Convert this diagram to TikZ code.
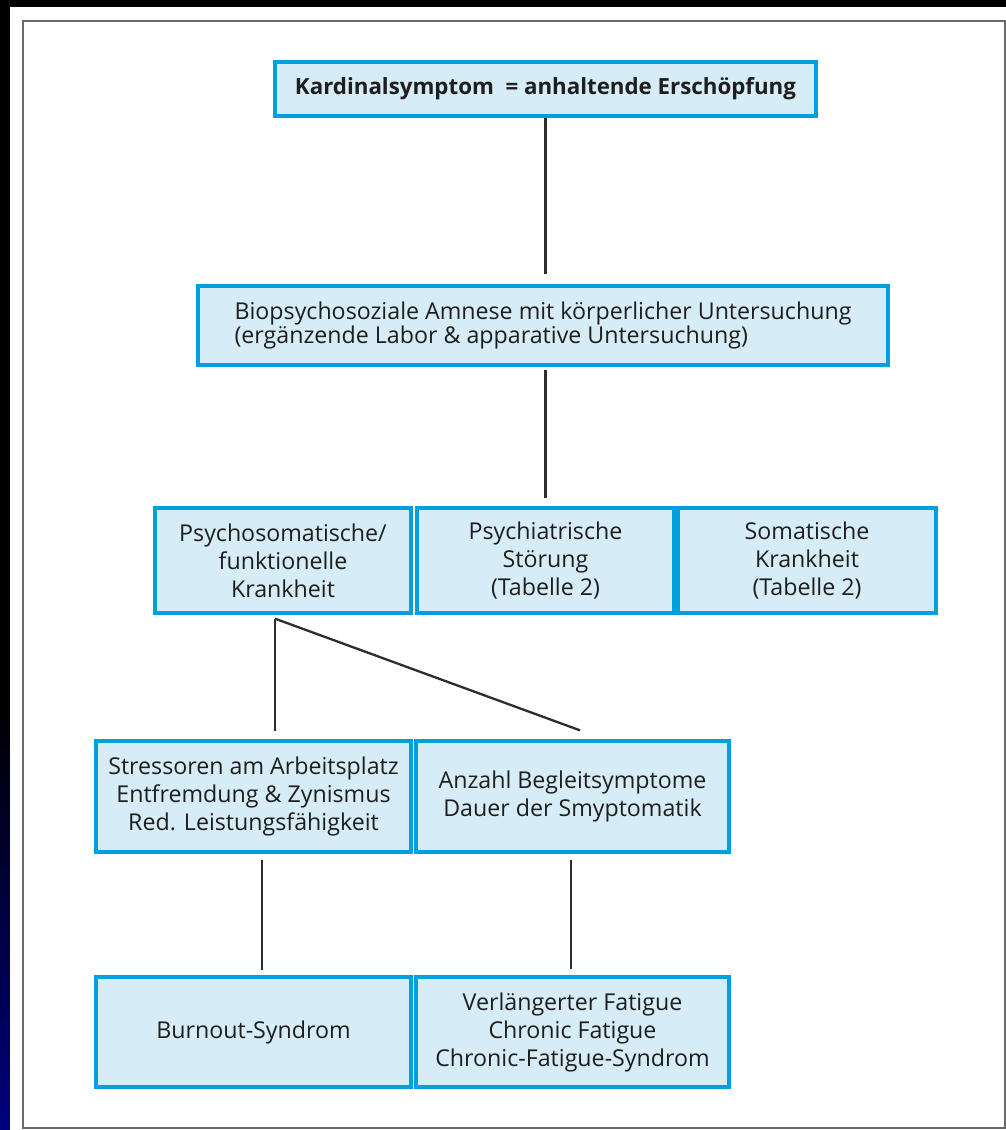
\documentclass[tikz,border=0pt]{standalone}
\usepackage{fontspec}
\setmainfont{Open Sans}
\usepackage{tikz}
\usetikzlibrary{calc, positioning}
\definecolor{boxFill}{RGB}{214, 236, 246}
\definecolor{boxBorder}{RGB}{0, 160, 222}
\definecolor{lineGrey}{RGB}{45, 45, 45}
\definecolor{frameGrey}{RGB}{105, 105, 105}
\definecolor{slideBlue}{RGB}{0, 0, 125}
\definecolor{textGrey}{RGB}{30, 30, 30}

\begin{document}
\begin{tikzpicture} [
        x=1pt, y=-1pt,
        box/.style={draw=boxBorder, fill=boxFill, line width=3.3pt, inner sep=0pt, align=center,
            text=textGrey, font=\fontsize{23.2}{28}\selectfont},
        lnk/.style={draw=lineGrey, line width=2.3pt}
    ]
        \useasboundingbox (0,0) rectangle (1006,1130);
        \fill[black] (0,0) rectangle (1006,1130);
        \shade[top color=black, bottom color=slideBlue] (0,700) rectangle (10,1130);
        \fill[white] (10,7) rectangle (1006,1130);
        \draw[frameGrey, line width=2.8pt] (23,21) rectangle (1005,1128);

        \node [box, minimum width=541, minimum height=54, font=\bfseries\fontsize{22.3}{28}\selectfont]
            (kard) at (545.5,89) {Kardinalsymptom \ = anhaltende Erschöpfung};
        \node [box, minimum width=690, minimum height=79, align=left, font=\fontsize{23.2}{22.5}\selectfont]
            (bio) at (543,325.5) {Biopsychosoziale Amnese mit körperlicher Untersuchung\\
                (ergänzende Labor \& apparative Untersuchung)};

        \node [box, minimum width=256, minimum height=105] (psom) at (283,560.5)
            {Psychosomatische/\\funktionelle\\Krankheit};
        \node [box, minimum width=257, minimum height=105] (psych) at (545.5,560.5)
            {Psychiatrische\\Störung\\(Tabelle 2)};
        \node [box, minimum width=258, minimum height=105] (somat) at (807,560.5)
            {Somatische\\Krankheit\\(Tabelle 2)};

        \node [box, minimum width=315, minimum height=111] (stress) at (253.5,796.5)
            {Stressoren am Arbeitsplatz\\Entfremdung \& Zynismus\\Red. Leistungsfähigkeit};
        \node [box, minimum width=313, minimum height=111] (anzahl) at (572.5,796.5)
            {Anzahl Begleitsymptome\\Dauer der Smyptomatik};

        \node [box, minimum width=315, minimum height=110] (burnout) at (253.5,1032)
            {Burnout-Syndrom};
        \node [box, minimum width=313, minimum height=110] (fatigue) at (572.5,1032)
            {Verlängerter Fatigue\\Chronic Fatigue\\Chronic-Fatigue-Syndrom};

        \coordinate (fork) at ([xshift=-8pt, yshift=-4pt]psom.south);
        \coordinate (diagend) at ([xshift=7.5pt, yshift=9pt]anzahl.north);

        \draw[lnk, shorten >=10pt] (kard.south) -- (kard.south |- bio.north);
        \draw[lnk, shorten <=3pt, shorten >=8pt] (psych.north |- bio.south) -- (psych.north);
        \draw[lnk, shorten >=8pt] (fork) -- (fork |- stress.north);
        \draw[lnk] (fork) -- (diagend);
        \draw[lnk, shorten <=6pt, shorten >=5pt] ([xshift=8.5pt]stress.south) -- ([xshift=8.5pt]burnout.north);
        \draw[lnk, shorten <=6pt, shorten >=6pt] ([xshift=-1.5pt]anzahl.south) -- ([xshift=-1.5pt]fatigue.north);
    \end{tikzpicture}
\end{document}
